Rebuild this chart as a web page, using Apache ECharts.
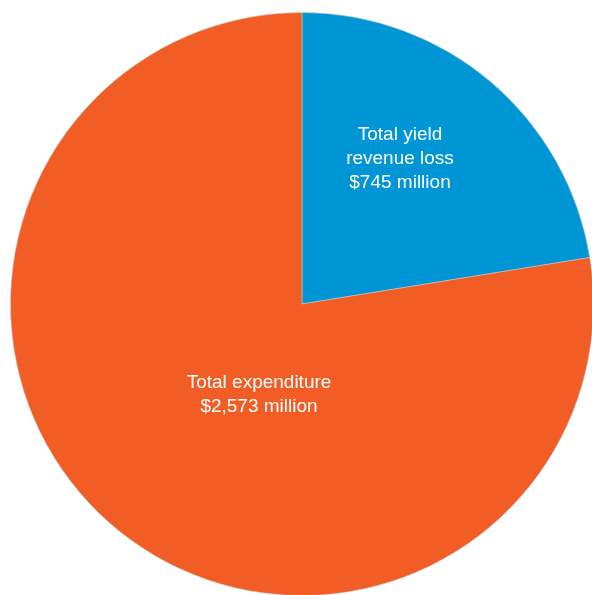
<!DOCTYPE html>
<html>
<head>
<meta charset="utf-8">
<script src="https://cdn.jsdelivr.net/npm/echarts@6/dist/echarts.min.js"></script>
<style>
  html, body { margin: 0; padding: 0; background: #ffffff; }
  #chart { width: 592px; height: 595px; }
</style>
</head>
<body>
<div id="chart"></div>
<script>
// Revenue and spending shares, in millions of dollars
const categories = ['Total yield\nrevenue loss', 'Total expenditure'];
const values = [745, 2573];
const sliceColors = ['#0096d6', '#f15d24'];

// Label anchor points (px) for each slice
const labelAnchors = [[400, 159], [259, 395]];

const fmt = v => '$' + v.toLocaleString('en-US') + ' million';

const chart = echarts.init(document.getElementById('chart'), null, { renderer: 'canvas' });
chart.setOption({
  animation: false,
  series: [{
    type: 'pie',
    center: [302, 304],
    radius: [0, 291.5],
    startAngle: 90,
    clockwise: true,
    silent: true,
    data: categories.map((name, i) => ({
      name: name,
      value: values[i],
      itemStyle: { color: sliceColors[i] }
    })),
    itemStyle: { borderColor: '#c8c8c8', borderWidth: 0.6 },
    label: {
      show: true,
      position: 'inside',
      formatter: p => p.name + '\n' + fmt(p.value),
      color: '#ffffff',
      fontFamily: '"Liberation Sans", Arial, sans-serif',
      fontSize: 19,
      lineHeight: 24,
      align: 'center',
      verticalAlign: 'middle'
    },
    labelLine: { show: false },
    labelLayout: p => ({
      x: labelAnchors[p.dataIndex][0],
      y: labelAnchors[p.dataIndex][1],
      align: 'center',
      verticalAlign: 'middle'
    })
  }]
});
</script>
</body>
</html>
